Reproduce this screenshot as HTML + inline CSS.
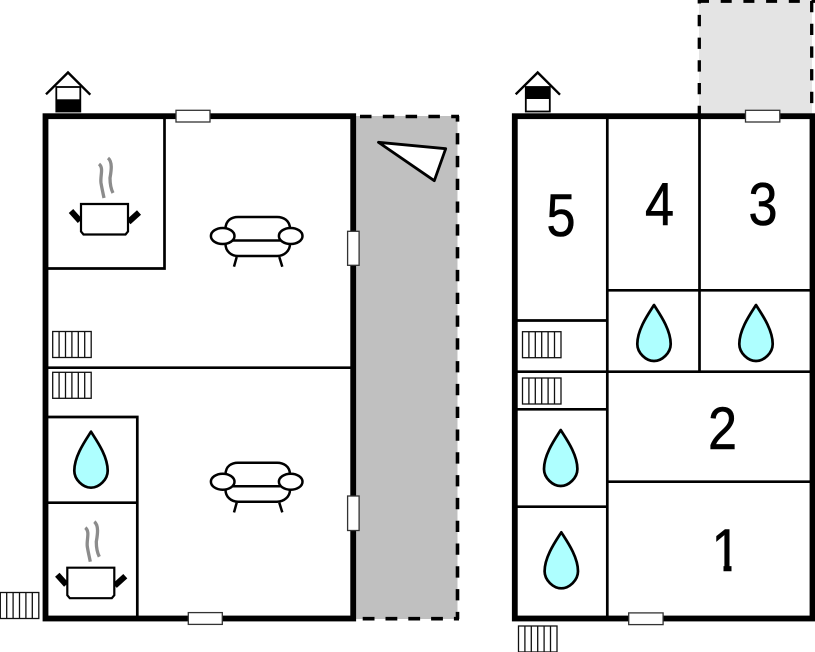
<!DOCTYPE html>
<html><head><meta charset="utf-8"><style>
html,body{margin:0;padding:0;background:#fff}
svg{display:block}
text{font-family:"Liberation Sans",sans-serif;font-size:60px;text-anchor:middle;fill:#000;stroke:#000;stroke-width:.6}
</style></head><body>
<svg width="815" height="652" viewBox="0 0 815 652" xmlns="http://www.w3.org/2000/svg">
<defs>
<clipPath id="one"><path d="M700 510H760V565.500H731.500V580H723.500V565.500H700Z"/></clipPath>
<g id="drop"><path d="M0 0C-5 8 -16.700 24 -16.700 39C-16.700 48 -8 56 0 56C8 56 16.700 48 16.700 39C16.700 24 5 8 0 0Z" fill="#aeffff" stroke="#000" stroke-width="2.700" stroke-linejoin="round"/></g>
<g id="rad" fill="#fff" stroke="#111" stroke-width="1.300"><rect x="0" y="0" width="38.500" height="26"/><path d="M6.400 0V26M12.800 0V26M19.200 0V26M25.600 0V26M32 0V26" fill="none"/></g>
<g id="sofa" fill="#fff" stroke="#000" stroke-width="2.500">
<path d="M225.500 229C225.500 220 232 217 238 217H277C283 217 290 220 290 229V244C290 251 284 256 277 256H238C231 256 225.500 251 225.500 244Z"/>
<path d="M232 240.500H282" fill="none"/>
<path d="M236.700 257L234 266.700M279.300 257L282.300 266.700" fill="none"/>
<ellipse cx="222.700" cy="236" rx="11.800" ry="8"/><ellipse cx="290.700" cy="236" rx="11.800" ry="8"/>
</g>
<g id="pot">
<path d="M99 164C104 168 100 176 101 183C102 189 103 193 104 198M108 158C113 162 111 172 110 178C110 184 111 189 113 193" fill="none" stroke="#8c8c8c" stroke-width="3.300"/>
<path d="M80 221L71 211M128.500 222L139 212.500" stroke="#000" stroke-width="6" fill="none"/>
<path d="M81 204H128V231.500L125.500 234.500H83.500L81 231.500Z" fill="#fff" stroke="#000" stroke-width="2.200"/>
</g>
</defs>
<rect x="356" y="116" width="101.500" height="503" fill="#c0c0c0"/>
<g fill="none" stroke="#000" stroke-width="3.600">
<path d="M360 116.500H459" stroke-dasharray="11.500 11.300"/>
<path d="M457.500 116V619" stroke-dasharray="11.300 11.500" stroke-dashoffset="5.700"/>
<path d="M362.700 618.700H459" stroke-dasharray="11.800 11"/>
</g>
<path d="M378.500 142.300L445.700 148.700L434.300 180.700Z" fill="#fff" stroke="#000" stroke-width="2.800" stroke-linejoin="round"/>
<rect x="699" y="0" width="113" height="116" fill="#e4e4e4"/>
<g fill="none" stroke="#000" stroke-width="3.300">
<path d="M698 1.200H815" stroke-dasharray="11 11.700"/>
<path d="M699.300 117V0" stroke-dasharray="11.300 11.400"/>
<path d="M811.700 1V113" stroke-dasharray="11.300 11.400"/>
</g>

<g fill="none" stroke="#000" stroke-width="2.700">
<path d="M164.500 116V268.500H46M46 367.700H353M46 417H137.300V618M46 502.700H137.300"/>
<path d="M607.300 116V618M699.500 116V371.700M607.300 290.300H812M515 320.500H607.300M515 371.700H812M515 409.300H607.300M607.300 481.700H812M515 506.700H607.300"/>
</g>
<rect x="45.500" y="116.200" width="307.700" height="502.300" fill="none" stroke="#000" stroke-width="5.800"/>
<rect x="514.800" y="116.200" width="297.700" height="502.300" fill="none" stroke="#000" stroke-width="5.800"/>

<g fill="#fff" stroke="#333" stroke-width="1.300">
<rect x="176" y="110.300" width="34" height="11.700"/>
<rect x="188.300" y="612.600" width="34" height="11.800"/>
<rect x="347.600" y="231.300" width="11.500" height="34"/>
<rect x="347.600" y="496" width="11.500" height="34.500"/>
<rect x="745.500" y="110.300" width="34.300" height="11.700"/>
<rect x="628.700" y="612.900" width="34.400" height="11.700"/>
</g>

<g>
<path d="M46 94.300L68 72.500L90.300 94.700" fill="none" stroke="#000" stroke-width="2.400"/>
<rect x="56.300" y="87" width="24" height="24.500" fill="#fff" stroke="#000" stroke-width="1.800"/>
<rect x="55.500" y="99.300" width="25.500" height="12.500" fill="#000"/>
</g>
<g>
<path d="M515.700 94.300L537.700 72.500L560 94.700" fill="none" stroke="#000" stroke-width="2.400"/>
<rect x="525.800" y="87" width="24" height="24.500" fill="#fff" stroke="#000" stroke-width="1.800"/>
<rect x="525" y="86.500" width="25.500" height="12.500" fill="#000"/>
</g>

<use href="#sofa"/>
<use href="#sofa" y="245.700"/>
<use href="#pot"/>
<use href="#pot" x="-13.700" y="363.700"/>

<use href="#drop" x="91" y="431.700"/>
<use href="#drop" x="654" y="305"/>
<use href="#drop" x="756" y="305"/>
<use href="#drop" x="560.700" y="430"/>
<use href="#drop" x="561.300" y="532.300"/>

<use href="#rad" x="52.700" y="331.500"/>
<use href="#rad" x="52.700" y="372.300"/>
<use href="#rad" x="0.300" y="592.500"/>
<use href="#rad" x="522.500" y="331.700"/>
<use href="#rad" x="522.500" y="378"/>
<use href="#rad" x="518.500" y="626"/>

<text transform="translate(561 236) scale(.87 1)">5</text>
<text transform="translate(659.500 225) scale(.87 1)">4</text>
<text transform="translate(763 225) scale(.87 1)">3</text>
<text transform="translate(722.500 449) scale(.87 1)">2</text>
<g clip-path="url(#one)"><text transform="translate(726 571) scale(.87 1)">1</text></g>
</svg>
</body></html>
